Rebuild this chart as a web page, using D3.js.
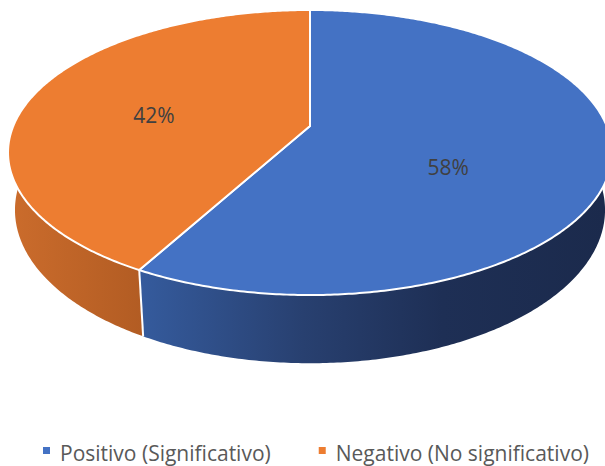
<!DOCTYPE html>
<html>
<head>
<meta charset="utf-8">
<script src="https://cdn.jsdelivr.net/npm/d3@7/dist/d3.min.js"></script>
<style>
  html, body { margin: 0; padding: 0; background: #ffffff; }
  svg { display: block; }
</style>
</head>
<body>
<svg id="chart" width="605" height="466"></svg>
<script>
// ---- data ----
const categories = ["Positivo (Significativo)", "Negativo (No significativo)"];
const values = [58, 42];
const valueLabels = ["58%", "42%"];
const topColors = ["#4472C4", "#ED7D31"];

// ---- layout / projection (3D tilted pie with mild perspective) ----
const W = 605, H = 466;
const cx = 310, cy = 126;      // pie centre (apex) on screen
const S = 296.7, T = 137.6;    // horizontal / vertical scale of the disc
const persp = 0.186;           // perspective strength
const depth = 55.5;            // thickness of the pie
const shrink = 0.977;          // bottom rim slightly smaller (farther away)

function proj(a, k, bottom) {
  const u = k * Math.sin(a), v = -k * Math.cos(a);
  const w = 1 - persp * v;
  let x = cx + S * u / w, y = cy + T * v / w;
  if (bottom) { x = cx + (x - cx) * shrink; y += depth / w; }
  return [x, y];
}
function arcPts(a0, a1, k, bottom) {
  const n = Math.max(8, Math.ceil(Math.abs(a1 - a0) / 0.01));
  const pts = [];
  for (let i = 0; i <= n; i++) pts.push(proj(a0 + (a1 - a0) * i / n, k, bottom));
  return pts;
}

const svg = d3.select("#chart");
const defs = svg.append("defs");

const pie = d3.pie().sort(null).value(d => d)(values);
const line = d3.line();

// side gradients
const gBlue = defs.append("linearGradient").attr("id", "sideBlue")
  .attr("gradientUnits", "userSpaceOnUse").attr("x1", 140).attr("x2", 605).attr("y1", 0).attr("y2", 0);
[[0, "#355B9D"], [0.35, "#284070"], [0.65, "#1E2F55"], [1, "#1B2A4C"]]
  .forEach(([o, c]) => gBlue.append("stop").attr("offset", o).attr("stop-color", c));
const gOrange = defs.append("linearGradient").attr("id", "sideOrange")
  .attr("gradientUnits", "userSpaceOnUse").attr("x1", 10).attr("x2", 143).attr("y1", 0).attr("y2", 0);
[[0, "#CB6C2C"], [1, "#B25C23"]]
  .forEach(([o, c]) => gOrange.append("stop").attr("offset", o).attr("stop-color", c));
const sideFills = ["url(#sideBlue)", "url(#sideOrange)"];

// sides
const g = svg.append("g");
pie.forEach((d, i) => {
  const top = arcPts(d.startAngle, d.endAngle, 1, false);
  const bot = arcPts(d.startAngle, d.endAngle, 1, true).reverse();
  g.append("path").attr("d", line(top.concat(bot)) + "Z")
    .attr("fill", sideFills[i]).attr("stroke", "none");
});
// white edge on the side at the visible slice joint
pie.forEach(d => {
  const a = d.endAngle;
  if (-Math.cos(a) > 0) {
    g.append("path").attr("d", line([proj(a, 1, false), proj(a, 1, true)]))
      .attr("stroke", "#ffffff").attr("stroke-width", 2).attr("fill", "none");
  }
});

// top faces
pie.forEach((d, i) => {
  const pts = [[cx, cy]].concat(arcPts(d.startAngle, d.endAngle, 1, false));
  g.append("path").attr("d", line(pts) + "Z")
    .attr("fill", topColors[i]).attr("stroke", "#ffffff")
    .attr("stroke-width", 2).attr("stroke-linejoin", "round");
});

// data labels
const labelK = [0.45, 0.55];
const labelNudge = [[6, 33], [-2, 15.5]];
pie.forEach((d, i) => {
  const mid = (d.startAngle + d.endAngle) / 2;
  const p = proj(mid, labelK[i], false);
  svg.append("text")
    .attr("x", p[0] + labelNudge[i][0]).attr("y", p[1] + labelNudge[i][1])
    .attr("text-anchor", "middle")
    .attr("font-family", "'Open Sans', 'Noto Sans', sans-serif")
    .attr("font-size", 21).attr("fill", "#404040")
    .text(valueLabels[i]);
});

// legend
const legend = svg.append("g");
let lx = 43;
const ly = 461;
categories.forEach((c, i) => {
  legend.append("rect").attr("x", lx).attr("y", ly - 14).attr("width", 7).attr("height", 7)
    .attr("fill", topColors[i]);
  const t = legend.append("text").attr("x", lx + 17).attr("y", ly)
    .attr("font-family", "'Open Sans', 'Noto Sans', sans-serif")
    .attr("font-size", 21).attr("fill", "#595959").text(c);
  lx += 17 + t.node().getComputedTextLength() + 48;
});
</script>
</body>
</html>
